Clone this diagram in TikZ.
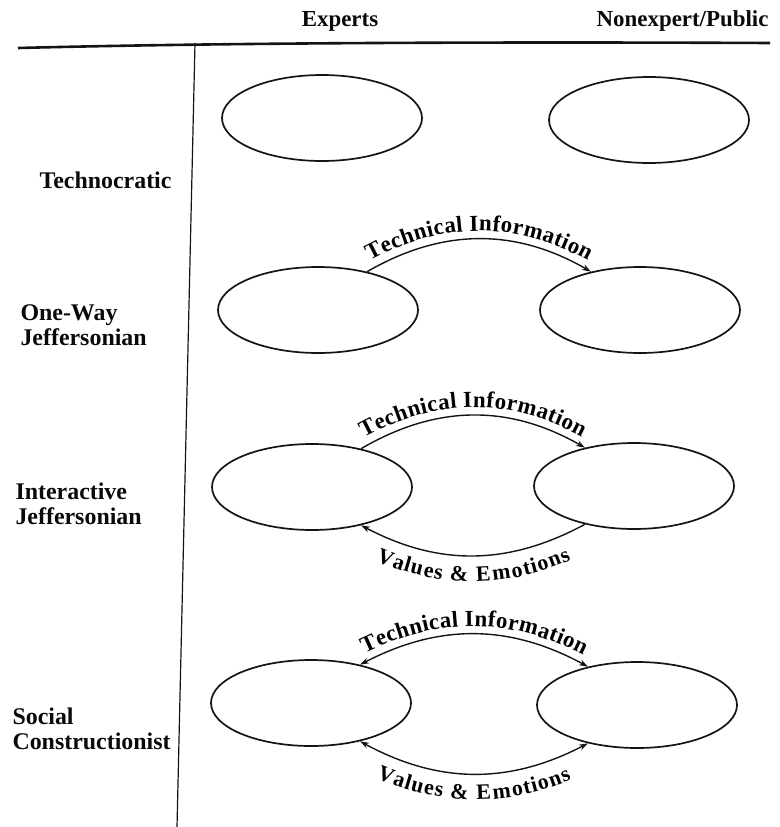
\documentclass[tikz,border=0pt]{standalone}
\usepackage{fontspec}
\setmainfont{Liberation Serif}
\usepackage{tikz}
\usetikzlibrary{positioning,arrows.meta,shapes.geometric,decorations.text}
\definecolor{inkline}{HTML}{141414}
\definecolor{inktext}{HTML}{0A0A0A}

\begin{document}
\begin{tikzpicture}[x=1bp, y=1bp,
  party/.style={draw=inkline, ellipse, line width=1.7bp, inner sep=0pt,
                minimum width=200bp, minimum height=86bp},
  flow/.style={draw=inkline, line width=1.4bp},
  oneway/.style={flow, -{Stealth[length=9bp,width=6bp]}},
  backway/.style={flow, {Stealth[length=9bp,width=6bp]}-},
  twoway/.style={flow, {Stealth[length=9bp,width=6bp]}-{Stealth[length=9bp,width=6bp]}},
  head/.style={text=inktext, font=\fontsize{23}{26}\selectfont\bfseries},
  model/.style={text=inktext, anchor=west, align=left,
                font=\fontsize{24}{25}\selectfont\bfseries},
  overtext/.style={postaction={decorate},
    decoration={text along path, text align=center, raise=8bp,
      text={|\fontsize{23}{23}\selectfont\bfseries|#1}}},
  undertext/.style={postaction={decorate},
    decoration={text along path, text align=center, raise=-26bp,
      text={|\fontsize{22}{22}\selectfont\bfseries|#1}}},
]
  \useasboundingbox (0,0) rectangle (780,-827);

  % column heads and frame
  \node[head] (experts) at (340,-21) {Experts};
  \node[head, anchor=east] (public) at (772,-21) {Nonexpert/Public};
  \draw[inkline, line width=2.6bp] (18,-48) .. controls (250,-42) and (550,-42) .. (770,-43);
  \draw[inkline, line width=1.2bp] (195,-43) -- (177,-827);

  % models
  \node[model] (tec) at (36,-180) {Technocratic};
  \node[model] (one) at (17,-325) {One-Way\\Jeffersonian};
  \node[model] (int) at (12,-504) {Interactive\\Jeffersonian};
  \node[model] (soc) at (9,-729) {Social\\Constructionist};

  \node[party] (tecE) at (322,-118) {};
  \node[party] (tecP) at (649,-120) {};
  \node[party] (oneE) at (318,-310) {};
  \node[party] (oneP) at (640,-310) {};
  \node[party] (intE) at (312,-487) {};
  \node[party] (intP) at (634,-486) {};
  \node[party] (socE) at (311,-703) {};
  \node[party] (socP) at (637,-705) {};

  % flows
  \draw[oneway, overtext=Technical Information] (oneE.38) to[bend left=30] (oneP.142);
  \draw[oneway, overtext=Technical Information] (intE.38) to[bend left=30] (intP.142);
  \draw[backway, undertext=Values {\&} Emotions] (intE.-38) to[bend right=28] (intP.-142);
  \draw[twoway, overtext=Technical Information] (socE.38) to[bend left=28] (socP.142);
  \draw[twoway, undertext=Values {\&} Emotions] (socE.-38) to[bend right=28] (socP.-142);
\end{tikzpicture}
\end{document}
